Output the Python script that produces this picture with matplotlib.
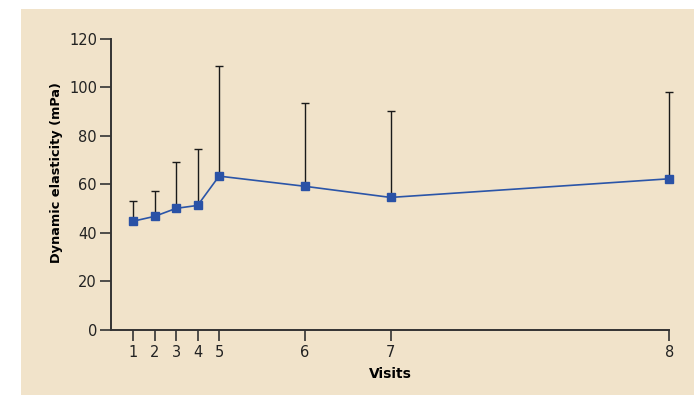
import matplotlib
matplotlib.use("Agg")
import matplotlib.pyplot as plt
from matplotlib.patches import Rectangle
import numpy as np

# Visits (tick labels) and their position on the time axis
visit_labels = ["1", "2", "3", "4", "5", "6", "7", "8"]
visit_pos = [0, 1, 2, 3, 4, 8, 12, 25]

# Dynamic elasticity mean and upper error (mPa)
mean_val = [44.8, 46.8, 50.1, 51.3, 63.4, 59.2, 54.6, 62.3]
upper_val = [53.0, 57.4, 69.2, 74.6, 109.0, 93.7, 90.3, 98.2]

W, H = 699, 395
fig = plt.figure(figsize=(W / 100, H / 100), dpi=100)
fig.patch.set_facecolor("white")

# beige panel behind the chart
fig.patches.append(Rectangle((21 / W, 0), (694 - 21) / W, (395 - 9) / H,
                             transform=fig.transFigure, facecolor="#f1e3ca",
                             edgecolor="none", zorder=-5))

ax = fig.add_axes([111 / W, (H - 329.7) / H, (669.3 - 111) / W, (329.7 - 39) / H])
ax.set_facecolor("none")

err = np.array(upper_val) - np.array(mean_val)
eb = ax.errorbar(visit_pos, mean_val, yerr=[np.zeros(len(err)), err], fmt="none",
                 ecolor="#1a1a1a", elinewidth=1.0, capsize=3, capthick=1.0, zorder=2)
for art in eb.lines[1] + eb.lines[2]:
    art.set_clip_on(False)
ax.plot(visit_pos, mean_val, color="#2b55a8", lw=1.2, marker="s", ms=6,
        markerfacecolor="#2a52a6", markeredgecolor="#2a52a6", zorder=3,
        clip_on=False)

ax.set_xlim(-1.04, 25)
ax.set_ylim(0, 120)
ax.set_xticks(visit_pos)
ax.set_xticklabels(visit_labels)
ax.set_yticks([0, 20, 40, 60, 80, 100, 120])

for s in ["top", "right"]:
    ax.spines[s].set_visible(False)
for s in ["left", "bottom"]:
    ax.spines[s].set_color("#333333")
    ax.spines[s].set_linewidth(1.4)

ax.tick_params(axis="both", length=8, width=1.2, color="#333333",
               labelsize=10.5, labelcolor="#222222", pad=3)
ax.tick_params(axis="y", pad=2)

ax.set_xlabel("Visits", fontsize=10, fontweight="bold")
ax.set_ylabel("Dynamic elasticity (mPa)", fontsize=9.3, fontweight="bold")
ax.xaxis.set_label_coords((390.7 - 111) / (669.3 - 111), -(367 - 329.7) / (329.7 - 39))
ax.yaxis.set_label_coords(-(111 - 63) / (669.3 - 111), (329.7 - 172.5) / (329.7 - 39))

fig.savefig("out.png", dpi=100)
